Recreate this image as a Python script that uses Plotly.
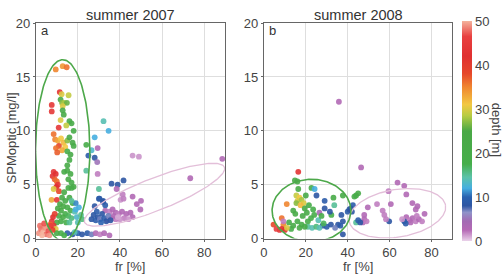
import numpy as np
import plotly.graph_objects as go

# ---------------- data: summer 2007 (panel a) ----------------
fr07 = [9.5, 12.8, 14.7, 11.4, 12.3, 15.6, 11.8, 12.5, 13.5, 14.8, 12.8, 7.6, 7.6, 12.8, 13.3, 11.8, 16.0, 17.0, 14.5, 10.9,
        18.0, 32.2, 34.6, 8.5, 28.0, 29.4, 9.2, 10.5, 12.0, 13.2, 15.0, 11.0, 14.0, 9.6, 12.5, 10.2, 16.0, 17.5, 18.0, 24.0,
        15.0, 16.5, 16.0, 15.0, 26.5, 28.0, 29.2, 29.4, 24.0, 25.0,
        8.5, 9.5, 8.0, 9.0, 10.0, 10.5, 9.8, 8.5, 11.0, 7.5, 10.0,
        13.5, 15.0, 16.5, 15.5, 17.0, 18.0, 17.0, 15.5, 13.5, 12.5, 14.0, 16.0, 17.5, 11.5, 13.0, 15.0, 16.5, 12.0, 10.5,
        14.0, 13.0, 11.0, 15.5, 17.0, 12.0, 14.5, 10.0, 16.0, 18.5, 19.5, 20.5, 21.5, 19.0, 22.0, 20.0, 17.0, 19.0,
        7.6, 8.2, 9.0, 8.5, 6.8, 9.5,
        30.0, 30.3, 32.0, 36.0, 38.9, 41.7, 30.0, 32.0,
        46.0, 49.0, 88.6, 73.4, 38.4, 41.3, 40.3, 41.7, 46.0, 50.0, 48.0, 49.7,
        33.0, 35.0, 36.5, 38.0, 39.5, 41.0, 43.0, 45.0, 46.0, 42.0, 40.0, 38.0, 36.0, 34.0, 44.0, 37.0, 39.0,
        26.5, 27.5, 28.5, 29.5, 30.5, 31.5, 32.5, 33.5, 31.0, 29.0, 34.5, 35.5, 28.0, 33.0,
        15.0, 17.5, 20.0, 22.0, 24.5, 26.5, 28.5, 30.5, 32.5, 35.0, 12.0, 13.5, 10.0, 18.5,
        1.5, 2.5, 3.5, 4.5, 5.0, 6.0, 3.0, 7.0, 2.0, 6.5, 4.0, 8.0]
spm07 = [15.7, 16.0, 15.9, 13.6, 13.4, 13.3, 12.9, 12.6, 12.6, 12.6, 12.3, 12.4, 11.8, 11.9, 11.5, 11.0, 10.9, 10.7, 10.5, 10.3,
         10.0, 10.9, 10.0, 9.7, 9.4, 8.4, 9.2, 9.1, 9.3, 8.9, 9.1, 8.6, 8.5, 8.4, 8.2, 8.0, 9.4, 8.9, 8.6, 8.7,
         8.1, 7.8, 7.3, 6.8, 8.2, 7.5, 7.1, 6.0, 6.3, 7.7,
         6.2, 6.0, 5.8, 5.5, 5.3, 5.0, 4.8, 4.6, 4.4, 3.6, 3.6,
         6.2, 6.3, 6.0, 5.5, 5.2, 4.8, 4.7, 4.7, 4.3, 3.8, 3.5, 3.8, 3.3, 3.2, 3.0, 2.9, 2.6, 2.6, 2.8,
         2.3, 2.0, 2.1, 2.1, 1.9, 1.6, 1.5, 1.5, 1.5, 2.5, 2.0, 2.9, 2.2, 3.3, 1.8, 1.5, 3.5, 2.7,
         1.6, 2.0, 2.3, 1.2, 1.3, 0.9,
         4.6, 3.7, 3.4, 5.1, 5.0, 5.4, 3.7, 3.5,
         7.7, 7.6, 7.4, 5.6, 4.6, 4.1, 3.6, 3.7, 3.9, 3.5, 3.2, 2.7,
         2.6, 2.5, 2.7, 2.4, 2.3, 2.5, 2.3, 2.4, 2.0, 1.9, 1.8, 1.8, 1.9, 1.7, 1.8, 2.1, 2.0,
         1.8, 2.2, 1.7, 2.0, 1.8, 2.3, 1.9, 1.6, 1.5, 2.5, 2.1, 1.7, 3.0, 3.1,
         0.5, 0.4, 0.5, 0.4, 0.5, 0.4, 0.5, 0.4, 0.5, 0.3, 0.5, 0.3, 0.5, 0.6,
         0.5, 0.9, 0.6, 1.0, 0.4, 0.7, 0.3, 1.2, 1.2, 0.3, 1.4, 0.8]
dep07 = [35, 34, 36, 43, 30, 29, 21, 27, 28, 26, 30, 44, 44, 21, 21, 30, 22, 21, 29, 44,
         20, 14, 12, 36, 12, 3, 35, 33, 31, 32, 27, 38, 31, 36, 33, 37, 22, 22, 20, 20,
         20, 22, 20, 21, 13, 8, 5, 2, 15, 9,
         44, 42, 43, 37, 36, 44, 42, 30, 38, 33, 44,
         21, 22, 21, 22, 20, 22, 20, 20, 22, 21, 20, 22, 19, 22, 23, 20, 19, 21, 25,
         18, 21, 22, 17, 16, 20, 19, 22, 15, 14, 13, 12, 15, 11, 16, 14, 15, 12,
         44, 42, 40, 43, 36, 30,
         15, 8, 8, 8, 8, 8, 9, 8,
         1.5, 1.5, 3, 3, 3, 2, 1.5, 2, 3, 3, 3, 3,
         3, 2, 3, 3, 2, 3, 3, 3, 3, 2, 1.5, 2, 2, 2, 1.5, 3, 1,
         8, 8, 9, 8, 7, 8, 9, 8, 10, 9, 7, 8, 8, 9,
         9, 8, 10, 8, 9, 7, 3, 2, 3, 3, 20, 18, 22, 14,
         49, 48, 50, 49, 48, 47, 50, 46, 48, 49, 47, 40]

# ---------------- data: summer 2008 (panel b) ----------------
fr08 = [35.8, 46.4, 16.4, 14.8, 16.0, 16.4, 22.7, 24.2, 15.5, 17.0, 16.0, 18.0, 19.0, 15.5, 17.5, 10.9, 20.0, 25.1, 29.0, 33.2,
        37.7, 44.0, 45.0, 43.2, 33.6, 29.0, 32.2, 31.5, 26.5, 37.0, 40.0, 40.8, 37.7, 35.4, 28.0, 30.0, 32.0, 34.0, 36.5, 37.7,
        21.0, 23.0, 25.0, 26.5,
        12.0, 14.0, 16.0, 18.0, 19.5, 21.0, 17.0, 13.0, 15.0, 18.5, 20.5, 22.5, 19.5, 24.0, 21.5, 23.5, 14.0, 26.0, 27.5, 28.5,
        8.5, 9.3, 9.3, 8.5, 10.0, 7.5, 4.6, 11.0, 6.0,
        63.8, 67.0, 68.0, 59.5, 70.9, 73.3, 72.5, 60.6, 54.0, 49.6, 56.7, 57.5, 76.7, 68.0, 69.5, 71.0, 72.5, 74.0, 75.5, 70.0,
        73.0, 67.0, 67.7, 59.8, 58.3, 47.9, 47.9, 47.2, 42.0, 42.5, 41.5, 44.0, 46.0, 45.0, 66.0, 49.0]
spm08 = [12.7, 6.6, 6.2, 5.4, 5.3, 4.6, 4.7, 4.6, 4.0, 3.8, 3.5, 3.6, 3.3, 3.3, 3.1, 3.2, 4.0, 4.0, 3.5, 3.8,
         4.0, 4.0, 4.2, 3.9, 3.1, 2.8, 2.2, 2.5, 2.4, 2.2, 2.5, 2.7, 1.6, 1.3, 1.2, 1.1, 1.3, 1.0, 1.2, 0.4,
         1.1, 1.0, 1.1, 1.0,
         1.5, 1.2, 1.6, 1.3, 1.1, 1.6, 1.0, 0.9, 2.3, 2.1, 2.4, 1.9, 2.8, 2.2, 3.1, 2.7, 2.6, 1.7, 2.1, 1.4,
         1.9, 1.3, 1.6, 0.9, 0.8, 0.8, 1.3, 1.0, 0.9,
         5.2, 4.9, 4.1, 4.4, 3.3, 3.0, 2.7, 3.2, 3.2, 2.9, 2.6, 2.2, 2.3, 2.0, 1.7, 1.9, 1.6, 1.8, 1.6, 1.5,
         2.1, 1.6, 1.4, 1.6, 1.8, 2.2, 1.8, 1.5, 2.5, 3.1, 2.8, 1.5, 1.5, 1.7, 1.8, 1.6]
dep08 = [3, 3, 43, 22, 22, 21, 21, 12, 29, 31, 30, 28, 30, 27, 32, 35, 22, 8, 9, 21,
         21, 21, 22, 20, 15, 8, 18, 8, 4, 8, 9, 8, 8, 8, 8, 9, 8, 7, 9, 8,
         15, 14, 16, 14,
         20, 21, 20, 19, 21, 20, 22, 19, 21, 22, 21, 19, 22, 20, 20, 18, 22, 14, 20, 17,
         36, 35, 2, 43, 42, 44, 38, 30, 46,
         3, 3, 3, 2, 3, 3, 3, 3, 2, 3, 2, 2, 3, 3, 2, 3, 2, 3, 2, 3,
         2, 8, 9, 8, 2, 3, 3, 3, 8, 9, 8, 15, 8, 9, 1.5, 2]

# ellipses: centre, semi-axis vector 1, semi-axis vector 2 (data units)
ell_green07 = [(12.8, 8.2), (12.9, 0.0), (0.0, 8.4)]
ell_pink07 = [(56.4, 4.07), (33.2, 2.57), (3.08, -1.38)]
ell_green08 = [(22.7, 2.6), (18.8, 0.0), (0.0, 2.9)]
ell_pink08 = [(63.7, 2.35), (23.0, 0.75), (2.04, -2.17)]

panel_titles = ["summer 2007", "summer 2008"]
panel_letters = ["a", "b"]
x_ticks = [0, 20, 40, 60, 80]
y_ticks = [0, 5, 10, 15, 20]
cbar_ticks = [0, 10, 20, 30, 40, 50]

W, H = 503, 274
FONT = "Liberation Sans, Arial"
colorscale = [
    [0.00, "#ead2ea"], [0.05, "#b569b5"], [0.09, "#a36ab3"], [0.13, "#8f93c9"],
    [0.16, "#2e56a3"], [0.20, "#2a62b0"], [0.24, "#46aee0"], [0.29, "#5cc3a8"],
    [0.35, "#46ae4a"], [0.50, "#4aa846"], [0.57, "#b7cc42"], [0.62, "#f2c842"],
    [0.70, "#f08630"], [0.76, "#e6482a"], [0.84, "#e03030"], [0.93, "#e84040"],
    [1.00, "#f4b39c"],
]

def ellipse(spec):
    (cx, cy), (ux, uy), (vx, vy) = spec
    t = np.linspace(0, 2 * np.pi, 200)
    return cx + ux * np.cos(t) + vx * np.sin(t), cy + uy * np.cos(t) + vy * np.sin(t)

fig = go.Figure()

for i, (fr, spm, dep, eg, ep) in enumerate([
        (fr07, spm07, dep07, ell_green07, ell_pink07),
        (fr08, spm08, dep08, ell_green08, ell_pink08)]):
    xa = "x" if i == 0 else "x2"
    ya = "y" if i == 0 else "y2"
    fig.add_trace(go.Scatter(x=fr, y=spm, mode="markers", xaxis=xa, yaxis=ya,
                             marker=dict(size=5.8, color=dep, coloraxis="coloraxis", opacity=0.9,
                                         line=dict(width=0)),
                             showlegend=False, hoverinfo="skip"))
    ex, ey = ellipse(ep)
    fig.add_trace(go.Scatter(x=ex, y=ey, mode="lines", xaxis=xa, yaxis=ya,
                             line=dict(color="#e3bfd9", width=1.3), showlegend=False, hoverinfo="skip"))
    ex, ey = ellipse(eg)
    fig.add_trace(go.Scatter(x=ex, y=ey, mode="lines", xaxis=xa, yaxis=ya,
                             line=dict(color="#4da84a", width=1.6), showlegend=False, hoverinfo="skip"))

axis_common = dict(showline=True, linecolor="#666", linewidth=1, mirror=True,
                   showgrid=True, gridcolor="#dedede", gridwidth=1, zeroline=False,
                   ticks="outside", ticklen=2, tickcolor="#666",
                   tickfont=dict(family=FONT, size=13, color="#444"))

xd1 = [32 / W, 223 / W]
xd2 = [262 / W, 452 / W]
yd = [(H - 245) / H, (H - 17) / H]

fig.update_layout(
    width=W, height=H, margin=dict(l=0, r=0, t=0, b=0),
    paper_bgcolor="white", plot_bgcolor="white",
    xaxis=dict(domain=xd1, range=[0, 90], tickvals=x_ticks, anchor="y", **axis_common),
    yaxis=dict(domain=yd, range=[0, 20], tickvals=y_ticks, anchor="x", **axis_common),
    xaxis2=dict(domain=xd2, range=[0, 90], tickvals=x_ticks, anchor="y2", **axis_common),
    yaxis2=dict(domain=yd, range=[0, 20], tickvals=y_ticks, anchor="x2", **axis_common),
    coloraxis=dict(colorscale=colorscale, cmin=0, cmax=50,
                   colorbar=dict(x=462 / W, xanchor="left", y=1 - 15 / H, yanchor="top",
                                 len=233 / H, lenmode="fraction", thickness=10,
                                 outlinewidth=0, xpad=0, ypad=0,
                                 tickvals=cbar_ticks, ticks="", ticklabelposition="outside",
                                 tickfont=dict(family=FONT, size=13, color="#444"))),
)

ann = []
for i, (t, l) in enumerate(zip(panel_titles, panel_letters)):
    xd = xd1 if i == 0 else xd2
    ann.append(dict(text=t, x=(xd[0] + xd[1]) / 2, y=1 - 8 / H, xref="paper", yref="paper",
                    showarrow=False, font=dict(family=FONT, size=14.5, color="#333"),
                    xanchor="center", yanchor="middle"))
    ann.append(dict(text=l, x=xd[0] + 3 / W, y=1 - 25 / H, xref="paper", yref="paper",
                    showarrow=False, font=dict(family=FONT, size=13, color="#333"),
                    xanchor="left", yanchor="middle"))
    ann.append(dict(text="fr [%]", x=(xd[0] + xd[1]) / 2, y=1 - 266 / H, xref="paper", yref="paper",
                    showarrow=False, font=dict(family=FONT, size=13, color="#444"),
                    xanchor="center", yanchor="top", borderpad=0))
ann.append(dict(text="SPMoptic [mg/l]", x=8 / W, y=1 - 138 / H, xref="paper", yref="paper",
                showarrow=False, textangle=-90, font=dict(family=FONT, size=13, color="#444"),
                xanchor="center", yanchor="middle"))
ann.append(dict(text="depth [m]", x=496 / W, y=1 - 130 / H, xref="paper", yref="paper",
                showarrow=False, textangle=90, font=dict(family=FONT, size=13, color="#444"),
                xanchor="center", yanchor="middle"))
fig.update_layout(annotations=ann)

fig.write_html("out.html")
